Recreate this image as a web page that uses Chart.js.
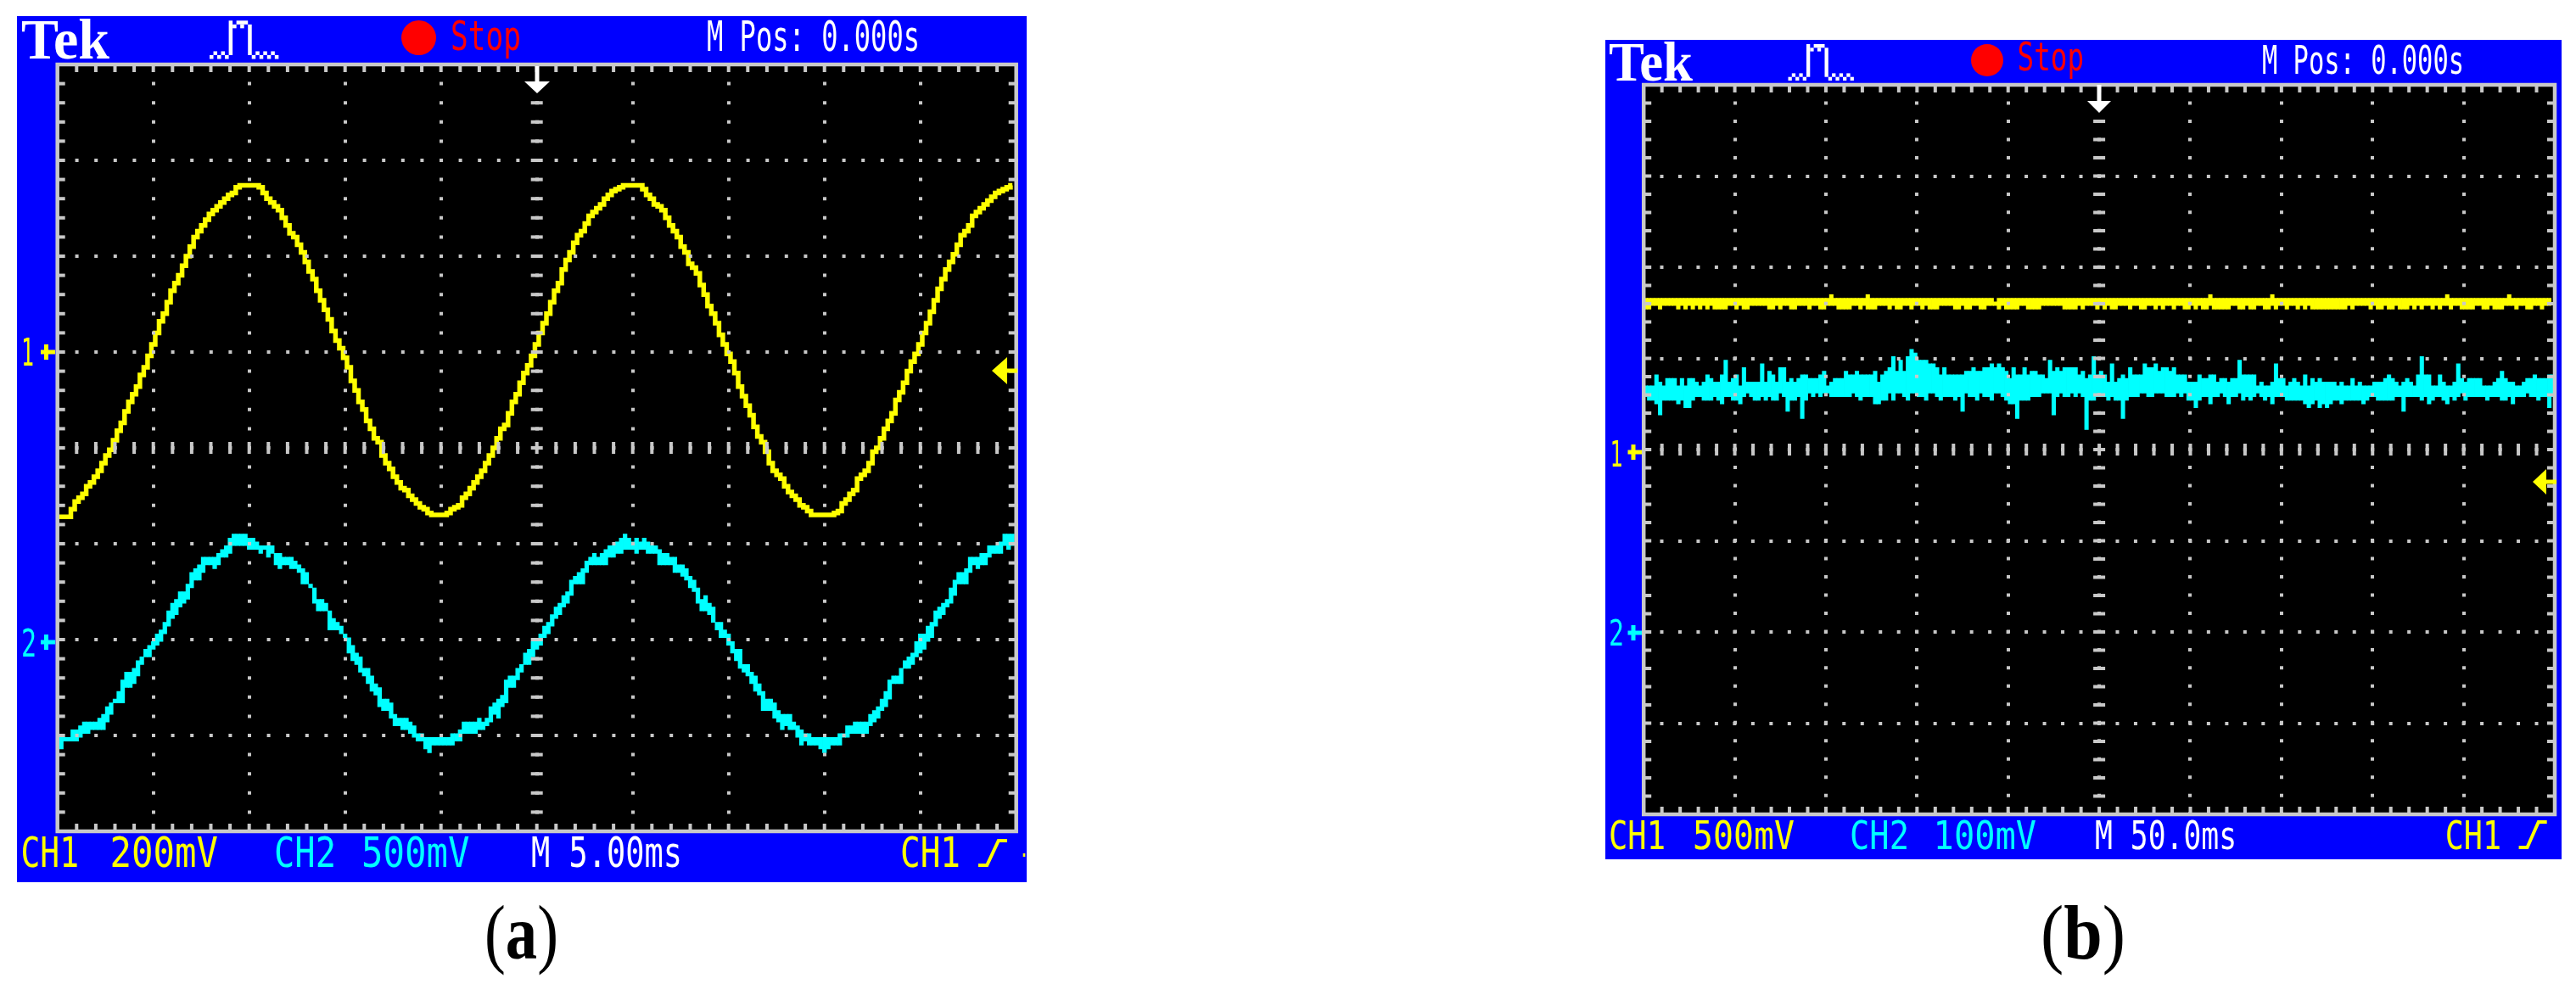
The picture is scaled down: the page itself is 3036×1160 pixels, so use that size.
<!DOCTYPE html>
<html>
<head>
<meta charset="utf-8">
<title>Tek scope captures</title>
<script src="https://cdn.jsdelivr.net/npm/chart.js@4/dist/chart.umd.min.js"></script>
<style>
  html, body { margin: 0; padding: 0; background: #fff; }
  body { width: 3036px; height: 1160px; position: relative; overflow: hidden; }
  canvas { position: absolute; top: 0; }
  #scopeA { left: 0; }
  #scopeB { left: 1518px; }
</style>
</head>
<body>
<canvas id="scopeA" width="1518" height="1160"></canvas>
<canvas id="scopeB" width="1518" height="1160"></canvas>
<script>
// screen readout, in scope pixels: 25 per division, column 0 at the left edge, row 0 at mid screen
const aCh1 = [
  -18,-18,-18,-18,-16,-14,-13,-12,-10,-9,-7.5,-6,-4,-2,-0.5,2,4.5,6.5,9.5,12,14,16,19,21,24,
  27,30,33,35,38,41,43,45,47.5,50,52.5,55,56.5,58,59.5,61,62,63,64,65,66,66.5,68,68.5,68.5,
  68.5,68.5,68.5,68,66.5,65,64,63,62,60,58,56,55,53,51,48.5,46,44,41,38.5,36,33.5,30.5,28,26,
  23.5,21,17.5,15,12,10,7,5,2.5,1.5,-2,-4,-5.5,-7.5,-9,-10.5,-11,-12.5,-13.5,-14.5,-15.5,-16,-17,-17.5,-17.5,
  -17.5,-17.5,-17,-16,-15.5,-15,-13,-12,-10.5,-9,-7.5,-6,-4,-2,0,2.5,5,6,9,12,14,17,19.5,21.5,24,
  27,30,32.5,35,38,41,43,46.5,49,51,53.5,55.5,56.5,58.5,60.5,61.5,62.5,63.5,65,66,67,67.5,68,68.5,68.5,
  68.5,68.5,68.5,67.5,66,65,63.5,63,62,60,58,56.5,55,52.5,51,48,47,45.5,42.5,40,37,35,32.5,29.5,27,
  24.5,22.5,19.5,16,13.5,11,8.5,5.5,3,1.5,-1,-4,-6,-7,-8,-10,-11.5,-12.5,-13.5,-15,-15.5,-16.5,-17.5,-17.5,-17.5,
  -17.5,-17.5,-17.5,-17,-16.5,-14.5,-13.5,-12,-11,-8,-7,-6,-4,-1,0,2.5,5,7,9,12.5,14.5,17,20,22.5,24.5,
  27,30,32.5,35.5,38.5,41.5,44,46.5,48.5,50.5,53,55.5,56.5,58,60.5,61.5,62.5,63.5,64.5,65.5,66.5,67,67.5,68,68.5
];
const aCh2Top = [
  -76,-76,-76,-76,-74,-74,-73,-72,-72,-72,-72,-71,-70,-68,-67,-66,-64,-61,-59,-59,-58,-56,-55,-53,-52,
  -51,-49,-48,-46,-43,-41,-40,-38,-38,-36,-33,-32,-31,-29,-29,-29,-29,-28,-27,-26,-24,-23,-23,-23,-23,
  -24,-24,-25,-26,-26,-26,-26,-28,-28,-29,-29,-29,-30,-31,-32,-33,-36,-37,-40,-40,-41,-43,-45,-46,-47,
  -49,-50,-52,-54,-55,-58,-58,-60,-62,-63,-66,-66,-67,-70,-71,-71,-71,-72,-73,-75,-75,-76,-76,-76,-76,
  -76,-76,-76,-75,-75,-74,-72,-72,-72,-72,-71,-72,-71,-68,-67,-66,-65,-61,-60,-60,-58,-57,-54,-53,-51,
  -51,-49,-47,-46,-44,-42,-41,-39,-38,-35,-34,-33,-32,-30,-29,-28,-29,-28,-27,-26,-26,-25,-24,-23,-24,
  -25,-24,-25,-24,-25,-26,-26,-27,-28,-28,-29,-29,-31,-31,-32,-34,-35,-37,-40,-39,-41,-42,-46,-46,-48,
  -49,-51,-53,-53,-57,-57,-59,-60,-62,-64,-66,-66,-67,-69,-70,-70,-70,-72,-73,-74,-75,-75,-76,-76,-76,
  -76,-76,-76,-76,-75,-75,-73,-73,-72,-72,-72,-72,-70,-69,-68,-66,-64,-61,-60,-60,-58,-56,-55,-54,-51,
  -49,-49,-47,-46,-43,-42,-41,-40,-37,-35,-33,-33,-32,-29,-29,-29,-28,-28,-26,-26,-26,-25,-23,-23,-23
];
const aCh2Bottom = [
  -77,-78,-76,-76,-76,-76,-75,-74,-74,-73,-73,-73,-73,-71,-69,-66,-66,-66,-62,-62,-61,-59,-56,-54,-54,
  -52,-51,-50,-48,-46,-44,-43,-41,-40,-39,-36,-34,-34,-32,-30,-30,-31,-30,-28,-28,-27,-25,-25,-25,-25,
  -26,-26,-26,-27,-26,-28,-27,-30,-31,-30,-30,-31,-31,-32,-35,-35,-36,-40,-42,-42,-42,-47,-47,-47,-48,
  -49,-53,-55,-56,-58,-59,-61,-63,-64,-67,-68,-68,-70,-72,-72,-73,-73,-74,-75,-76,-76,-78,-79,-77,-77,
  -77,-77,-77,-77,-76,-76,-74,-74,-74,-74,-73,-73,-72,-71,-69,-70,-67,-66,-62,-62,-60,-58,-56,-56,-54,
  -52,-51,-49,-48,-46,-44,-43,-41,-40,-38,-35,-35,-35,-32,-30,-30,-30,-30,-30,-28,-28,-27,-27,-26,-26,
  -26,-27,-26,-26,-27,-27,-27,-30,-30,-30,-30,-32,-32,-33,-34,-36,-37,-40,-42,-42,-43,-45,-47,-49,-49,
  -51,-53,-55,-57,-58,-59,-61,-63,-64,-68,-68,-68,-70,-71,-73,-72,-73,-73,-75,-77,-76,-77,-77,-77,-78,
  -79,-78,-77,-77,-77,-75,-75,-74,-74,-74,-74,-74,-72,-71,-70,-68,-67,-65,-61,-61,-61,-57,-57,-56,-54,
  -53,-52,-50,-49,-46,-44,-43,-41,-40,-38,-35,-35,-35,-32,-30,-31,-30,-30,-28,-27,-27,-27,-25,-26,-25
];
const bCh1Top = [
  41,41,41,41,41,41,41,41,41,41,41,41,41,41,41,41,41,41,41,41,41,41,41,41,41,
  41,41,41,41,41,41,41,41,41,41,41,41,41,41,41,41,41,41,41,41,41,41,41,41,41,
  41,41,42,41,41,41,41,41,41,41,41,41,42,41,41,41,41,41,41,41,41,41,41,41,41,
  41,41,41,41,41,41,41,41,41,41,41,41,41,41,41,41,41,41,41,41,41,41,40,41,41,
  41,41,41,41,41,41,41,41,41,41,41,41,41,41,41,41,41,41,41,41,41,41,41,41,41,
  41,41,41,41,41,41,41,41,41,41,41,41,41,41,41,41,41,41,41,41,41,41,41,41,41,
  41,41,41,41,41,41,42,41,41,41,41,41,41,41,41,41,41,41,41,41,41,41,41,42,41,
  41,41,41,41,41,41,41,41,41,41,41,41,41,41,41,41,41,41,41,41,41,41,41,41,41,
  41,41,41,41,41,41,41,41,41,41,41,41,41,41,41,41,41,41,41,41,41,42,41,41,41,
  41,41,41,41,41,41,41,41,41,41,41,41,41,42,41,41,41,41,41,41,41,41,41,41,41
];
const bCh1Bottom = [
  39,39,39,40,40,39,40,40,40,40,39,40,39,40,39,40,39,40,39,40,39,39,39,39,40,
  40,39,40,39,39,40,40,40,40,40,39,39,40,39,40,40,39,39,40,40,40,39,40,40,39,
  39,40,40,40,39,39,39,39,40,40,39,40,39,39,39,40,40,40,39,40,39,39,40,40,39,
  40,40,39,40,39,39,39,40,40,40,40,39,39,40,39,39,40,40,39,39,40,40,40,39,40,
  39,39,39,39,40,40,39,39,39,39,40,40,40,40,40,40,39,39,39,39,40,39,40,40,40,
  39,40,39,40,39,39,40,40,40,39,40,40,39,39,40,40,39,40,39,40,40,39,40,40,39,
  39,40,39,40,39,39,40,39,39,39,39,39,40,40,39,39,40,39,39,40,40,39,39,40,39,
  40,40,39,40,40,39,40,39,40,39,39,39,39,39,39,39,39,39,39,40,39,40,40,40,40,
  39,40,39,39,40,39,39,40,39,39,39,40,39,40,39,40,40,39,40,39,40,40,39,40,40,
  39,39,39,39,40,40,39,39,40,39,39,39,40,40,40,39,40,40,39,39,40,40,39,40,40
];
const bCh2Top = [
  17,17,17,20,18,17,19,19,19,17,19,17,19,19,18,17,18,20,19,18,18,20,24,18,19,
  20,17,22,18,18,18,18,23,18,21,20,18,22,22,18,19,18,19,20,20,19,19,19,20,21,
  17,18,19,19,19,21,20,20,21,20,20,20,20,21,18,20,21,22,25,21,24,21,25,27,26,
  24,24,24,23,23,22,20,22,20,20,20,20,20,21,21,22,21,21,22,22,23,22,23,22,21,
  19,22,20,20,22,20,21,21,20,20,19,24,21,22,21,22,22,22,22,20,21,19,20,25,20,
  21,20,18,23,18,19,20,19,22,20,20,20,23,22,22,23,21,22,22,21,22,20,20,20,18,
  18,18,20,19,19,20,20,18,19,19,18,19,19,24,20,20,20,20,17,18,17,17,18,23,19,
  19,17,18,19,18,17,20,17,19,18,19,18,18,18,18,17,18,17,17,19,17,18,17,17,17,
  18,18,18,19,20,19,18,17,18,19,18,17,20,25,20,20,17,17,20,18,17,17,18,23,19,
  18,19,19,19,19,17,17,17,18,19,21,19,18,18,17,17,18,19,19,20,19,19,19,20,20
];
const bCh2Bottom = [
  15,14,14,13,10,14,14,14,14,13,14,12,12,14,15,15,14,14,14,15,14,13,15,15,14,
  14,13,15,16,15,14,14,15,14,15,14,14,16,15,11,14,14,15,9,14,16,15,16,15,16,
  16,15,15,15,15,15,15,16,15,14,15,15,15,13,13,14,14,16,14,16,16,15,14,16,16,
  15,15,14,16,16,15,14,15,15,15,14,15,11,16,15,15,14,16,15,15,14,16,16,15,14,
  13,13,9,14,14,14,15,15,15,16,16,16,10,15,16,15,15,16,15,16,15,6,14,14,15,
  15,15,14,15,14,14,9,14,15,15,15,16,16,15,15,16,16,16,15,15,15,16,15,16,14,
  14,12,14,15,15,13,15,15,16,15,13,15,15,16,14,15,14,15,16,15,14,15,13,15,15,
  15,14,14,14,14,14,13,12,13,14,12,13,12,13,14,14,13,14,14,14,14,14,13,14,15,
  15,14,14,14,14,14,15,15,11,15,15,15,15,14,15,13,14,15,15,14,13,15,14,15,16,
  14,15,15,15,15,15,14,15,15,15,14,14,15,13,15,15,15,16,15,15,14,15,15,12,15
];

const YELLOW = "#ffff00";
const CYAN = "#00ffff";
const BLUE = "#0000ff";
const GREY = "#c8c8c8";
const LCD = "'DejaVu Sans Mono'";

// pulse glyph next to Tek, in LCD cells: [col, row, width, height]
const pulseCells = [
  [0,9,1,1],[2,9,1,1],[4,9,1,1],[1,8,1,1],[3,8,1,1],
  [5,0,1,9],[6,1,1,1],[7,0,3,1],[8,1,1,1],[10,1,1,8],
  [11,9,1,1],[13,9,1,1],[15,9,1,1],[17,9,1,1],[12,8,1,1],[14,8,1,1],[16,8,1,1]
];

const layoutA = {
  blue: [20, 19, 1210, 1040],
  cell: 4.52,
  pulse: [247, 24.3],
  stopDot: [493.5, 44.5, 20.5],
  topArrow: [633, 78, 110, 15],
  trigArrow: [1169, 1187, 1199, 437, 16],
  slope: [1153, 1187, 989, 1022],
  markers: [[48, 65, 415, YELLOW], [48, 65, 757, CYAN]],
  texts: [
    ["Tek", 25, 129, 69, "bold 68px 'Liberation Serif'", "#fff"],
    ["Stop", 531, 614, 59, "48px " + LCD, "#ff0000"],
    ["M Pos: 0.000s", 833, 1084, 60, "50px " + LCD, "#fff"],
    ["CH1", 24.5, 93, 1022, "50px " + LCD, YELLOW],
    ["200mV", 129.5, 257, 1022, "50px " + LCD, YELLOW],
    ["CH2", 323, 396, 1022, "50px " + LCD, CYAN],
    ["500mV", 426, 553.6, 1022, "50px " + LCD, CYAN],
    ["M 5.00ms", 626, 804, 1022, "50px " + LCD, "#fff"],
    ["CH1", 1061, 1132, 1022, "50px " + LCD, YELLOW],
    ["-", 1204, 1210, 1022, "50px " + LCD, YELLOW],
    ["1", 25, 40, 431, "44px " + LCD, YELLOW],
    ["2", 25, 43, 774, "44px " + LCD, CYAN]
  ],
  caption: ["a", 571, 658, 1130]
};

// panel B lives in a canvas that starts at x = 1518
const layoutB = {
  blue: [374, 47, 1501, 1013],
  cell: 4.3,
  pulse: [589.5, 52],
  stopDot: [824, 71, 19],
  topArrow: [956, 100, 133, 14],
  trigArrow: [1467, 1483, 1495, 568, 15],
  slope: [1450.6, 1483.7, 967, 1001],
  markers: [[400.5, 417, 533, YELLOW], [400.5, 417, 746, CYAN]],
  texts: [
    ["Tek", 378, 477, 95, "bold 65px 'Liberation Serif'", "#fff"],
    ["Stop", 859.6, 938, 83, "46px " + LCD, "#ff0000"],
    ["M Pos: 0.000s", 1148, 1386, 87, "47px " + LCD, "#fff"],
    ["CH1", 378, 445, 1001, "47px " + LCD, YELLOW],
    ["500mV", 477, 597, 1001, "47px " + LCD, YELLOW],
    ["CH2", 662, 732, 1001, "47px " + LCD, CYAN],
    ["100mV", 760.6, 882, 1001, "47px " + LCD, CYAN],
    ["M 50.0ms", 951, 1118, 1001, "47px " + LCD, "#fff"],
    ["CH1", 1363.7, 1430, 1001, "47px " + LCD, YELLOW],
    ["1", 379.5, 394.5, 550, "42px " + LCD, YELLOW],
    ["2", 378, 396, 761, "42px " + LCD, CYAN]
  ],
  caption: ["b", 887, 987, 1130]
};

function fitText(ctx, str, x1, x2, base, font, color) {
  ctx.save();
  ctx.font = font;
  ctx.fillStyle = color;
  ctx.textBaseline = "alphabetic";
  ctx.translate(x1, base);
  ctx.scale((x2 - x1) / ctx.measureText(str).width, 1);
  ctx.fillText(str, 0, 0);
  ctx.restore();
}

function drawCaption(ctx, cap) {
  const plain = "90px 'Liberation Serif'";
  const bold = "bold 90px 'Liberation Serif'";
  ctx.save();
  ctx.fillStyle = "#000";
  ctx.textBaseline = "alphabetic";
  ctx.font = plain;
  const w = ctx.measureText("(").width;
  ctx.font = bold;
  const m = ctx.measureText(cap[0]).width;
  ctx.translate(cap[1], cap[3]);
  ctx.scale((cap[2] - cap[1]) / (w * 2 + m), 1);
  ctx.font = plain;
  ctx.fillText("(", 0, 0);
  ctx.fillText(")", w + m, 0);
  ctx.font = bold;
  ctx.fillText(cap[0], w, 0);
  ctx.restore();
}

const scopePlugin = {
  id: "scope",
  beforeDraw(chart) {
    const { ctx, chartArea: area } = chart;
    const b = chart.options.plugins.scope.blue;
    ctx.fillStyle = BLUE;
    ctx.fillRect(b[0], b[1], b[2] - b[0], b[3] - b[1]);
    ctx.fillStyle = "#000";
    ctx.fillRect(area.left, area.top, area.width, area.height);
  },
  afterDraw(chart) {
    const { ctx, chartArea: area, scales } = chart;
    const o = chart.options.plugins.scope;
    const xMid = scales.x.getPixelForValue(125);
    const yMid = scales.y.getPixelForValue(0);

    // graticule ticks round the edge and along both centre lines
    ctx.fillStyle = GREY;
    for (let c = 5; c < 250; c += 5) {
      const x = scales.x.getPixelForValue(c);
      ctx.fillRect(x - 2, area.top, 4, 9);
      ctx.fillRect(x - 2, area.bottom - 9, 4, 9);
      ctx.fillRect(x - 2, yMid - 7, 4, 14);
    }
    for (let r = -95; r < 100; r += 5) {
      const y = scales.y.getPixelForValue(r);
      ctx.fillRect(area.left, y - 2, 9, 4);
      ctx.fillRect(area.right - 9, y - 2, 9, 4);
      ctx.fillRect(xMid - 7, y - 2, 14, 4);
    }
    ctx.strokeStyle = GREY;
    ctx.lineWidth = 4.5;
    ctx.strokeRect(area.left, area.top, area.width, area.height);

    // status bar
    for (const t of o.texts) {
      fitText(ctx, t[0], t[1], t[2], t[3], t[4], t[5]);
    }
    drawCaption(ctx, o.caption);

    ctx.fillStyle = "#fff";
    for (const p of pulseCells) {
      ctx.fillRect(o.pulse[0] + p[0] * o.cell, o.pulse[1] + p[1] * o.cell, p[2] * o.cell, p[3] * o.cell);
    }

    ctx.fillStyle = "#ff0000";
    ctx.beginPath();
    ctx.arc(o.stopDot[0], o.stopDot[1], o.stopDot[2], 0, Math.PI * 2);
    ctx.fill();

    // trigger position arrow at the top
    const [ax, ay1, ay2, ah] = o.topArrow;
    ctx.fillStyle = "#fff";
    ctx.fillRect(ax - 2.5, ay1, 5, ay2 - ay1 - 10);
    ctx.beginPath();
    ctx.moveTo(ax - ah, ay2 - 14);
    ctx.lineTo(ax + ah, ay2 - 14);
    ctx.lineTo(ax, ay2);
    ctx.closePath();
    ctx.fill();

    // trigger level arrow on the right
    const [tx1, tx2, tx3, ty, th] = o.trigArrow;
    ctx.fillStyle = YELLOW;
    ctx.beginPath();
    ctx.moveTo(tx1, ty);
    ctx.lineTo(tx2, ty - th);
    ctx.lineTo(tx2, ty + th);
    ctx.closePath();
    ctx.fill();
    ctx.fillRect(tx2, ty - 2.5, tx3 - tx2, 5);

    // channel ground markers
    for (const m of o.markers) {
      ctx.fillStyle = m[3];
      ctx.fillRect(m[0], m[2] - 2.5, m[1] - m[0], 5);
      ctx.fillRect(m[0] + 4, m[2] - 9, 5, 18);
    }

    // rising edge glyph
    const [sx1, sx2, sy1, sy2] = o.slope;
    ctx.strokeStyle = YELLOW;
    ctx.lineWidth = 4;
    ctx.beginPath();
    ctx.moveTo(sx1, sy2 - 2);
    ctx.lineTo(sx1 + (sx2 - sx1) * 0.3, sy2 - 2);
    ctx.lineTo(sx1 + (sx2 - sx1) * 0.7, sy1 + 2);
    ctx.lineTo(sx2, sy1 + 2);
    ctx.stroke();
  }
};

function columnBars(label, top, bottom, color, thick) {
  return {
    type: "bar",
    label: label,
    data: top.map((t, c) => ({ x: c, y: [bottom[c] - 0.5, t + 0.5] })),
    backgroundColor: color,
    barThickness: thick,
    borderWidth: 0
  };
}

function makeScales(dash) {
  const shared = {
    type: "linear",
    offset: false,
    ticks: { display: false, stepSize: 25 },
    grid: { color: GREY, lineWidth: 4, drawTicks: false, offset: false, z: 1 },
    border: { display: false, dash: [4, dash - 4], dashOffset: 2 }
  };
  return {
    x: { ...shared, min: 0, max: 250 },
    y: { ...shared, min: -100, max: 100 }
  };
}

function makeOptions(padding, layout, dash) {
  return {
    responsive: false,
    animation: false,
    layout: { padding: padding },
    scales: makeScales(dash),
    plugins: { legend: { display: false }, tooltip: { enabled: false }, scope: layout }
  };
}

new Chart(document.getElementById("scopeA"), {
  type: "bar",
  plugins: [scopePlugin],
  data: {
    datasets: [
      {
        type: "line",
        label: "CH1",
        data: aCh1.map((v, c) => ({ x: c, y: v })),
        borderColor: YELLOW,
        borderWidth: 5.5,
        stepped: "middle",
        pointRadius: 0
      },
      columnBars("CH2", aCh2Top, aCh2Bottom, CYAN, 4.6)
    ]
  },
  options: makeOptions({ left: 67.7, top: 76, right: 320.3, bottom: 180 }, layoutA, 22.6)
});

new Chart(document.getElementById("scopeB"), {
  type: "bar",
  plugins: [scopePlugin],
  data: {
    datasets: [
      columnBars("CH1", bCh1Top, bCh1Bottom, YELLOW, 4.4),
      columnBars("CH2", bCh2Top, bCh2Bottom, CYAN, 4.4)
    ]
  },
  options: makeOptions({ left: 419.2, top: 100, right: 25, bottom: 200 }, layoutB, 21.48)
});
</script>
</body>
</html>
